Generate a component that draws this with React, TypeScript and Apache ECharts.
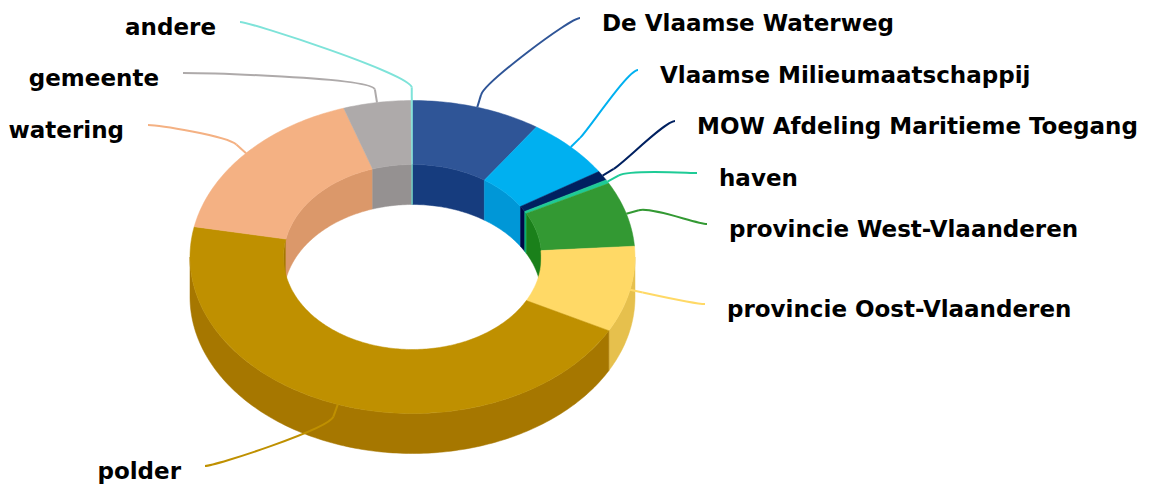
import React, { useEffect, useRef } from "react";
import * as echarts from "echarts";

// ---- data ----
const categories = [
  "De Vlaamse Waterweg",
  "Vlaamse Milieumaatschappij",
  "MOW Afdeling Maritieme Toegang",
  "haven",
  "provincie West-Vlaanderen",
  "provincie Oost-Vlaanderen",
  "polder",
  "watering",
  "gemeente",
  "andere",
];
const values = [9.4, 6.4, 1.0, 0.4, 6.7, 8.9, 45.3, 16.9, 4.9, 0.1];
const colors = [
  "#2F5597",
  "#00B0F0",
  "#002060",
  "#1ECB96",
  "#339933",
  "#FFD966",
  "#BF9000",
  "#F4B183",
  "#AEAAAA",
  "#7EE3D9",
];

// ---- label layout (connector start points) ----
const labelAnchorX = [580, 638, 675, 697, 707, 705, 205, 148, 183, 240];
const labelAnchorY = [18, 70, 121, 173, 224, 304, 466, 125, 73, 22];

const CX = 412.5;
const CY = 257;
const RX = 222.5;
const RY = 156.5;
const IRX = 129;
const IRY = 92.5;
const DEPTH = 40;

function shade(hex: string, amt: number) {
  const n = parseInt(hex.slice(1), 16);
  const c = [(n >> 16) & 255, (n >> 8) & 255, n & 255].map((x) =>
    Math.max(0, Math.min(255, Math.round(x + 255 * amt)))
  );
  return `rgb(${c[0]},${c[1]},${c[2]})`;
}

function pt(rx: number, ry: number, deg: number, dy = 0): number[] {
  const r = (deg * Math.PI) / 180;
  return [CX + rx * Math.sin(r), CY - ry * Math.cos(r) + dy];
}

function arc(rx: number, ry: number, a: number, b: number, dy = 0): number[][] {
  const n = Math.max(2, Math.ceil(Math.abs(b - a) / 1) + 1);
  const pts: number[][] = [];
  for (let i = 0; i < n; i++) {
    pts.push(pt(rx, ry, a + ((b - a) * i) / (n - 1), dy));
  }
  return pts;
}

function intersect(a: number, b: number, lo: number, hi: number): number[] | null {
  const s = Math.max(a, lo);
  const e = Math.min(b, hi);
  return e > s ? [s, e] : null;
}

export default function App() {
  const ref = useRef<HTMLDivElement>(null);

  useEffect(() => {
    document.body.style.margin = "0";
    const chart = echarts.init(ref.current!, null, { renderer: "svg" });
    const total = values.reduce((s, v) => s + v, 0);
    const starts: number[] = [];
    let acc = 0;
    values.forEach((v) => {
      starts.push(acc);
      acc += v;
    });

    const renderItem = (params: any, api: any) => {
      const i = params.dataIndex;
      const v = api.value(1);
      const a = (starts[i] / total) * 360;
      const b = a + (v / total) * 360;
      const color = colors[i];
      const side = shade(color, -0.1);
      const children: any[] = [];

      // outer wall (front half)
      const front = intersect(a, b, 90, 270);
      if (front) {
        const top = arc(RX, RY, front[0], front[1]);
        const bot = arc(RX, RY, front[1], front[0], DEPTH);
        children.push({
          type: "polygon",
          z2: 5,
          shape: { points: top.concat(bot) },
          style: { fill: side, stroke: side, lineWidth: 0.5 },
        });
      }
      // inner wall (back half)
      const backs = [intersect(a, b, 0, 90), intersect(a, b, 270, 360)];
      backs.forEach((bk) => {
        if (!bk) return;
        const top = arc(IRX, IRY, bk[0], bk[1]);
        const bot = arc(IRX, IRY, bk[1], bk[0], DEPTH);
        children.push({
          type: "polygon",
          z2: 5,
          shape: { points: top.concat(bot) },
          style: { fill: side, stroke: side, lineWidth: 0.5 },
        });
      });
      // top face
      const outer = arc(RX, RY, a, b);
      const inner = arc(IRX, IRY, b, a);
      children.push({
        type: "polygon",
        z2: 10,
        shape: { points: outer.concat(inner) },
        style: { fill: color, stroke: color, lineWidth: 0.5 },
      });

      // connector
      const mid = (a + b) / 2;
      const P = pt(RX, RY, mid);
      const r = (mid * Math.PI) / 180;
      const d = 13;
      const B = [P[0] + d * Math.sin(r), P[1] - d * Math.cos(r)];
      const lx = labelAnchorX[i];
      const ly = labelAnchorY[i];
      const isRight = lx > CX;
      children.push({
        type: "bezierCurve",
        z2: 20,
        shape: {
          x1: lx,
          y1: ly,
          cpx1: lx + (isRight ? -10 : 10),
          cpy1: ly,
          cpx2: 2 * B[0] - P[0],
          cpy2: 2 * B[1] - P[1],
          x2: B[0],
          y2: B[1],
        },
        style: { stroke: color, lineWidth: 2, fill: "none" },
      });
      children.push({
        type: "line",
        z2: 20,
        shape: { x1: B[0], y1: B[1], x2: P[0], y2: P[1] },
        style: { stroke: color, lineWidth: 2 },
      });
      children.push({
        type: "text",
        z2: 21,
        style: {
          text: categories[i],
          x: isRight ? lx + 22 : lx - 24,
          y: ly + 4.5,
          fill: "#000000",
          font: "bold 23px 'DejaVu Sans'",
          align: isRight ? "left" : "right",
          verticalAlign: "middle",
        },
      });
      return { type: "group", children };
    };

    chart.setOption({
      animation: false,
      backgroundColor: "#ffffff",
      series: [
        {
          type: "custom",
          coordinateSystem: "none",
          renderItem,
          silent: true,
          data: values.map((v, i) => [i, v]),
        },
      ],
    });
    return () => chart.dispose();
  }, []);

  return <div ref={ref} style={{ width: 1152, height: 485 }} />;
}
